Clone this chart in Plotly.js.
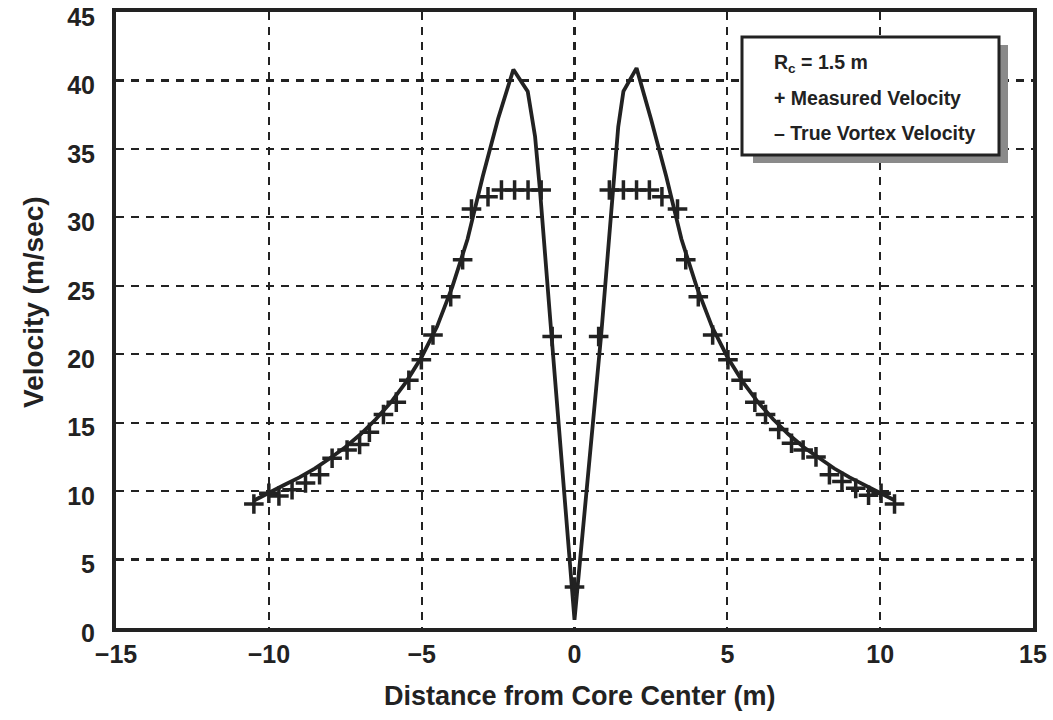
<!DOCTYPE html>
<html>
<head>
<meta charset="utf-8">
<script src="https://cdn.plot.ly/plotly-3.0.1.min.js"></script>
<style>
  html, body { margin: 0; padding: 0; background: #fff; }
  #chart { width: 1053px; height: 720px; }
</style>
</head>
<body>
<div id="chart"></div>
<script>
// Measured velocity (plus markers)
const measuredX = [-10.49, -10.0, -9.67, -9.24, -8.8, -8.34, -7.93, -7.44, -7.03, -6.71, -6.25, -5.83, -5.42, -5.01, -4.63, -4.05, -3.66, -3.37, -2.83, -2.39, -1.96, -1.52, -1.09, -0.73, 0,
                   0.79, 1.14, 1.6, 2.03, 2.45, 2.86, 3.37, 3.64, 4.05, 4.52, 5.02, 5.45, 5.9, 6.25, 6.68, 7.1, 7.48, 7.9, 8.34, 8.75, 9.2, 9.62, 10.03, 10.47];
const measuredY = [9.06, 9.84, 9.64, 10.1, 10.6, 11.2, 12.4, 13.0, 13.4, 14.3, 15.6, 16.5, 18.1, 19.6, 21.4, 24.2, 26.9, 30.6, 31.5, 32.0, 32.0, 32.0, 32.0, 21.3, 3.0,
                   21.3, 32.0, 32.0, 32.0, 32.0, 31.5, 30.6, 26.9, 24.2, 21.4, 19.6, 18.1, 16.5, 15.6, 14.5, 13.5, 13.0, 12.5, 11.2, 10.7, 10.2, 9.7, 9.84, 9.06];

// True vortex velocity (solid line)
const trueX = [-10.5, -10, -9.5, -9, -8.5, -8, -7.5, -7, -6.5, -6, -5.5, -5, -4.5, -4, -3.5, -3, -2.5, -2, -1.53, -1.29, -1.13, -0.75, 0,
               0.88, 1.27, 1.43, 1.6, 2.03, 2.5, 3, 3.5, 4, 4.5, 5, 5.5, 6, 6.5, 7, 7.5, 8, 8.5, 9, 9.5, 10, 10.5];
const trueY = [9.3, 9.9, 10.45, 11.0, 11.65, 12.4, 13.2, 14.15, 15.25, 16.5, 18.0, 19.8, 22.0, 24.9, 28.4, 33.0, 37.2, 40.8, 39.2, 35.9, 32.0, 21.3, 0.6,
               21.6, 32.0, 36.6, 39.2, 40.9, 37.2, 33.0, 28.4, 24.9, 22.0, 19.8, 18.0, 16.5, 15.25, 14.15, 13.2, 12.4, 11.65, 11.0, 10.45, 9.9, 9.3];

const xTicks = [-15, -10, -5, 0, 5, 10, 15];
const yTicks = [0, 5, 10, 15, 20, 25, 30, 35, 40, 45];

const legendLines = ['R<sub>c</sub> = 1.5 m', '+ Measured Velocity', '\u2013 True Vortex Velocity'];
const xTitle = 'Distance from Core Center (m)';
const yTitle = 'Velocity (m/sec)';

const ink = '#222222';
const fontFam = '"Liberation Sans", Arial, Helvetica, sans-serif';

const traces = [
  {
    x: trueX, y: trueY, type: 'scatter', mode: 'lines',
    line: { color: ink, width: 3.8 },
    hoverinfo: 'skip', showlegend: false
  },
  {
    x: measuredX, y: measuredY, type: 'scatter', mode: 'markers',
    marker: { symbol: 'cross-thin', size: 14, line: { color: ink, width: 3.5 }, color: ink },
    hoverinfo: 'skip', showlegend: false
  }
];

// Plot area in pixels: left 116, right 1033, top 12, bottom 628
const L = 116, R = 1033, T = 12, B = 628;
const W = R - L, H = B - T;
const px = v => (v - L) / W;
const py = v => (B - v) / H;

const layout = {
  width: 1053, height: 720,
  margin: { l: L, r: 1053 - R, t: T, b: 720 - B, pad: 0 },
  paper_bgcolor: '#ffffff', plot_bgcolor: '#ffffff',
  showlegend: false,
  font: { family: fontFam, color: ink },
  xaxis: {
    range: [-15, 15], tickvals: xTicks, ticktext: xTicks.map(v => v < 0 ? '\u2212' + Math.abs(v) : String(v)),
    showgrid: true, gridcolor: ink, gridwidth: 2.2, griddash: '8px,7px',
    zeroline: false, showline: true, linecolor: ink, linewidth: 4, mirror: true,
    ticks: '', ticklabelstandoff: 1,
    tickfont: { family: fontFam, size: 25, color: ink, weight: 'bold' },
    ticklabeloverflow: 'allow',
    automargin: false
  },
  yaxis: {
    range: [0, 45], tickvals: yTicks,
    showgrid: true, gridcolor: ink, gridwidth: 2.2, griddash: '8px,7px',
    zeroline: false, showline: true, linecolor: ink, linewidth: 4, mirror: true,
    ticks: '', ticklabelstandoff: 12, ticklabelshift: 5,
    tickfont: { family: fontFam, size: 25, color: ink, weight: 'bold' },
    ticklabeloverflow: 'allow',
    automargin: false
  },
  shapes: [
    // legend shadow
    { type: 'rect', xref: 'paper', yref: 'paper', x0: px(753), x1: px(1008), y0: py(163), y1: py(45),
      fillcolor: '#8a8a8a', line: { width: 0 }, layer: 'above' },
    // legend box
    { type: 'rect', xref: 'paper', yref: 'paper', x0: px(742), x1: px(999), y0: py(155), y1: py(37),
      fillcolor: '#ffffff', line: { color: ink, width: 3 }, layer: 'above' }
  ],
  annotations: [
    { xref: 'paper', yref: 'paper', x: px(772), y: py(64), xanchor: 'left', yanchor: 'middle',
      text: legendLines[0], showarrow: false, font: { family: fontFam, size: 19.5, color: ink, weight: 'bold' } },
    { xref: 'paper', yref: 'paper', x: px(772), y: py(98), xanchor: 'left', yanchor: 'middle',
      text: legendLines[1], showarrow: false, font: { family: fontFam, size: 19.5, color: ink, weight: 'bold' } },
    { xref: 'paper', yref: 'paper', x: px(772), y: py(133), xanchor: 'left', yanchor: 'middle',
      text: legendLines[2], showarrow: false, font: { family: fontFam, size: 19.5, color: ink, weight: 'bold' } },
    { xref: 'paper', yref: 'paper', x: px(580), y: py(696), xanchor: 'center', yanchor: 'middle',
      text: xTitle, showarrow: false, font: { family: fontFam, size: 27, color: ink, weight: 'bold' } },
    { xref: 'paper', yref: 'paper', x: px(33), y: py(302), xanchor: 'center', yanchor: 'middle',
      text: yTitle, textangle: -90, showarrow: false, font: { family: fontFam, size: 28, color: ink, weight: 'bold' } }
  ]
};

Plotly.newPlot('chart', traces, layout, { displayModeBar: false, staticPlot: true });
</script>
</body>
</html>
